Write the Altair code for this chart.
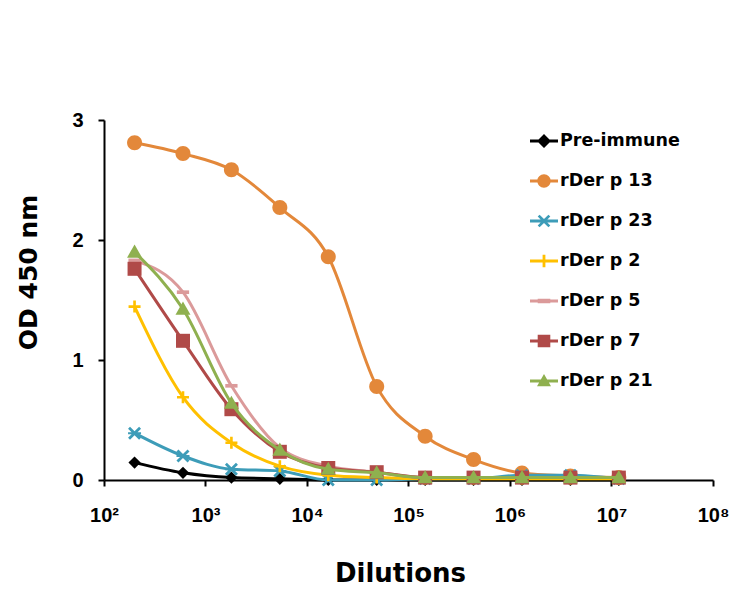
import altair as alt
import pandas as pd

# ---------------- data ----------------
dilutions = [200, 600, 1800, 5400, 16200, 48600, 145800, 437400, 1312200, 3936600, 11809800]
series_names = ["Pre-immune", "rDer p 13", "rDer p 23", "rDer p 2", "rDer p 5", "rDer p 7", "rDer p 21"]
pre_immune = [0.145, 0.06, 0.02, 0.01, 0.0, 0.0, 0.0, 0.0, 0.0, 0.0, 0.0]
der_p13 = [2.81, 2.72, 2.585, 2.27, 1.86, 0.78, 0.365, 0.17, 0.058, 0.033, 0.02]
der_p23 = [0.39, 0.20, 0.09, 0.075, 0.0, 0.0, 0.01, 0.01, 0.04, 0.04, 0.01]
der_p2 = [1.445, 0.69, 0.31, 0.115, 0.04, 0.02, 0.01, 0.01, 0.01, 0.01, 0.01]
der_p5 = [1.83, 1.565, 0.785, 0.27, 0.115, 0.065, 0.02, 0.02, 0.02, 0.02, 0.02]
der_p7 = [1.76, 1.16, 0.59, 0.235, 0.10, 0.065, 0.02, 0.02, 0.02, 0.02, 0.02]
der_p21 = [1.90, 1.425, 0.64, 0.25, 0.09, 0.06, 0.02, 0.02, 0.02, 0.02, 0.02]
series_values = [pre_immune, der_p13, der_p23, der_p2, der_p5, der_p7, der_p21]
colors = ["#000000", "#E3883A", "#3D9CB8", "#FFC000", "#DB9A9A", "#B04A48", "#8FB04F"]
x_ticks = [1e2, 1e3, 1e4, 1e5, 1e6, 1e7, 1e8]
y_ticks = [0, 1, 2, 3]

rows = []
for name, vals in zip(series_names, series_values):
    for d, v in zip(dilutions, vals):
        rows.append({"series": name, "dilution": d, "od": v})
df = pd.DataFrame(rows)


# ---------------- marker shapes ----------------
def poly(points, k=1.0):
    return "M" + "L".join(f"{x*k:.3f},{y*k:.3f}" for x, y in points) + "Z"


def rect(x0, y0, x1, y1):
    return f"M{x0},{y0}H{x1}V{y1}H{x0}Z"


def circ(r):
    return f"M{-r},0A{r},{r},0,1,1,{r},0A{r},{r},0,1,1,{-r},0Z"


x_pts = [(-1, -0.7), (-0.7, -1), (0, -0.3), (0.7, -1), (1, -0.7), (0.3, 0),
         (1, 0.7), (0.7, 1), (0, 0.3), (-0.7, 1), (-1, 0.7), (-0.3, 0)]
diamond_pts = [(0, -1), (1, 0), (0, 1), (-1, 0)]
tri_pts = [(0, -1), (1, 0.75), (-1, 0.75)]

plot_paths = [
    poly(diamond_pts),
    circ(1),
    poly(x_pts) + rect(-1, -0.15, 1, 0.15),
    rect(-1, -0.22, 1, 0.22) + rect(-0.22, -1, 0.22, 1),
    rect(-1, -0.3, 1, 0.3),
    rect(-1, -1, 1, 1),
    poly(tri_pts),
]
plot_sizes = [150, 225, 169, 144, 150, 196, 225]

seg = rect(-1, -0.1, 1, 0.1)
legend_paths = [
    seg + poly(diamond_pts, 0.5),
    seg + circ(0.48),
    seg + poly(x_pts, 0.45) + rect(-0.45, -0.08, 0.45, 0.08),
    seg + rect(-0.45, -0.1, 0.45, 0.1) + rect(-0.1, -0.45, 0.1, 0.45),
    seg + rect(-0.45, -0.16, 0.45, 0.16),
    seg + rect(-0.45, -0.45, 0.45, 0.45),
    seg + poly(tri_pts, 0.5),
]

# ---------------- encodings ----------------
sup = "['\u2070','\u00b9','\u00b2','\u00b3','\u2074','\u2075','\u2076','\u2077','\u2078']"
x_enc = alt.X(
    "dilution:Q",
    scale=alt.Scale(type="log", domain=[100, 1e8], nice=False),
    axis=alt.Axis(
        values=x_ticks,
        labelExpr="'10' + " + sup + "[round(log(datum.value)/LN10)]",
        grid=False, domainColor="black", domainWidth=2,
        tickColor="black", tickWidth=2, tickSize=6,
        labelFont="Liberation Sans", labelFontWeight="bold", labelFontSize=20,
        labelColor="black", labelPadding=19, labelFlush=False, labelOverlap=False,
        titleFont="DejaVu Sans", titleFontWeight="bold", titleFontSize=26,
        titleColor="black", titleX=296, titleY=101, titleBaseline="alphabetic",
        titleAlign="center",
    ),
    title="Dilutions",
)
y_enc = alt.Y(
    "od:Q",
    scale=alt.Scale(domain=[0, 3], nice=False),
    axis=alt.Axis(
        values=y_ticks, format="d",
        grid=False, domainColor="black", domainWidth=2,
        tickColor="black", tickWidth=2, tickSize=6,
        labelFont="Liberation Sans", labelFontWeight="bold", labelFontSize=20,
        labelColor="black", labelPadding=15,
        titleFont="DejaVu Sans", titleFontWeight="bold", titleFontSize=25,
        titleColor="black", titleAngle=270, titleX=-76, titleY=152,
        titleBaseline="middle", titleAlign="center",
    ),
    title="OD 450 nm",
)
color_scale = alt.Scale(domain=series_names, range=colors)

leg = alt.Legend(
    title=None, orient="none", legendX=426, legendY=7, padding=0,
    symbolSize=784, symbolStrokeWidth=0, symbolOpacity=1, rowPadding=17,
    labelFont="DejaVu Sans", labelFontWeight="bold", labelFontSize=17.5,
    labelColor="black", labelOffset=2, labelLimit=300,
)

# invisible layer that only carries the legend (line + marker symbols)
legend_layer = alt.Chart(df).mark_point(filled=True, opacity=0).encode(
    x=x_enc, y=y_enc,
    color=alt.Color("series:N", scale=color_scale, legend=leg),
    shape=alt.Shape("series:N", scale=alt.Scale(domain=series_names, range=legend_paths), legend=leg),
)
layers = [legend_layer]

for name, path, size in zip(series_names, plot_paths, plot_sizes):
    base = alt.Chart(df).transform_filter(alt.datum.series == name)
    line = base.mark_line(interpolate="monotone", strokeWidth=3).encode(
        x=x_enc, y=y_enc,
        color=alt.Color("series:N", scale=color_scale, legend=None),
    )
    pts = base.mark_point(shape=path, filled=True, size=size, opacity=1).encode(
        x=x_enc, y=y_enc,
        color=alt.Color("series:N", scale=color_scale, legend=None),
    )
    layers += [line, pts]

chart = alt.layer(*layers).resolve_legend(
    color="independent", shape="independent"
).properties(
    width=609, height=360,
    padding={"left": 104, "top": 120, "right": 23, "bottom": 124},
    autosize=alt.AutoSizeParams(type="none"),
    background="white",
).configure_view(stroke=None)

chart.save("out.html", embed_options={"renderer": "svg", "actions": False})
